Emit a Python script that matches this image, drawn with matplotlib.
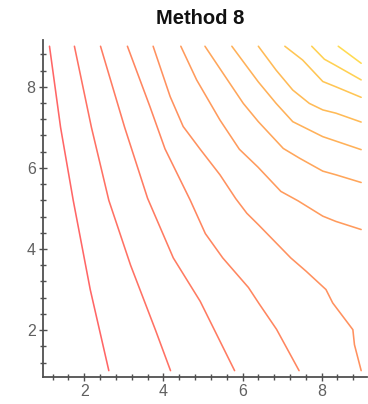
import matplotlib
matplotlib.use("Agg")
import matplotlib.pyplot as plt
from matplotlib.ticker import MultipleLocator
import numpy as np

title = "Method 8"

# Contour lines (lowest level -> highest level)
line1_x = [1.12, 1.40, 1.72, 2.15, 2.62]
line1_y = [9.0, 7.0, 5.2, 3.0, 1.0]
line2_x = [1.75, 2.18, 2.62, 3.17, 3.80, 4.18]
line2_y = [9.0, 7.0, 5.2, 3.6, 2.0, 1.0]
line3_x = [2.41, 3.02, 3.60, 4.25, 4.93, 5.80]
line3_y = [9.0, 7.0, 5.25, 3.78, 2.71, 1.0]
line4_x = [3.09, 3.66, 4.04, 4.68, 5.06, 5.50, 6.15, 6.42, 6.86, 7.43]
line4_y = [9.0, 7.51, 6.47, 5.2, 4.38, 3.78, 3.05, 2.65, 2.02, 1.0]
line5_x = [3.74, 4.17, 4.50, 4.93, 5.43, 5.83, 6.11, 6.40, 7.22, 7.61, 8.11, 8.28, 8.79, 8.83, 9.0]
line5_y = [9.0, 7.76, 7.02, 6.46, 5.83, 5.24, 4.88, 4.60, 3.78, 3.45, 3.0, 2.67, 2.01, 1.64, 1.0]
line6_x = [4.44, 4.84, 5.43, 5.92, 6.39, 6.97, 7.40, 8.03, 8.36, 9.0]
line6_y = [9.0, 8.17, 7.18, 6.46, 6.02, 5.42, 5.19, 4.81, 4.68, 4.48]
line7_x = [5.05, 5.51, 6.02, 6.40, 7.03, 7.44, 8.03, 8.36, 9.0]
line7_y = [9.0, 8.33, 7.59, 7.14, 6.48, 6.24, 5.92, 5.83, 5.64]
line8_x = [5.73, 6.11, 6.40, 6.85, 7.27, 8.03, 9.0]
line8_y = [9.0, 8.50, 8.12, 7.59, 7.14, 6.77, 6.45]
line9_x = [6.40, 6.85, 7.27, 7.69, 8.03, 8.36, 9.0]
line9_y = [9.0, 8.41, 7.92, 7.59, 7.43, 7.35, 7.13]
line10_x = [7.07, 7.52, 8.03, 8.36, 9.0]
line10_y = [9.0, 8.66, 8.13, 8.0, 7.74]
line11_x = [7.75, 8.07, 8.33, 9.0]
line11_y = [9.0, 8.68, 8.54, 8.17]
line12_x = [8.42, 9.0]
line12_y = [9.0, 8.58]

lines = [
    (line1_x, line1_y), (line2_x, line2_y), (line3_x, line3_y),
    (line4_x, line4_y), (line5_x, line5_y), (line6_x, line6_y),
    (line7_x, line7_y), (line8_x, line8_y), (line9_x, line9_y),
    (line10_x, line10_y), (line11_x, line11_y), (line12_x, line12_y),
]

xticks = [2, 4, 6, 8]
yticks = [2, 4, 6, 8]

fig = plt.figure(figsize=(3.68, 4.04), dpi=100)
ax = fig.add_axes([0.116, 0.0676, 0.8805, 0.8334])

n = len(lines)
for i, (xs, ys) in enumerate(lines):
    t = i / (n - 1)
    col = (1.0, 0.40 + 0.46 * t, 0.40 - 0.08 * t)
    ax.plot(xs, ys, color=col, lw=1.15, solid_joinstyle="round",
            solid_capstyle="round")

ax.set_xlim(0.948, 9.14)
ax.set_ylim(0.851, 9.154)
ax.set_xticks(xticks)
ax.set_yticks(yticks)
ax.xaxis.set_minor_locator(MultipleLocator(0.4))
ax.yaxis.set_minor_locator(MultipleLocator(0.4))

for s in ["top", "right"]:
    ax.spines[s].set_visible(False)
for s in ["left", "bottom"]:
    ax.spines[s].set_color("#505050")
    ax.spines[s].set_linewidth(1.3)

ax.tick_params(which="major", direction="inout", length=6, width=1.0,
               color="#505050", labelsize=11.5, labelcolor="#606060", pad=2)
ax.tick_params(which="minor", direction="inout", length=4, width=1.0,
               color="#505050")
for lab in ax.get_xticklabels() + ax.get_yticklabels():
    lab.set_family("Liberation Sans")

fig.text(0.5435, 1 - 18.5 / 404, title, ha="center", va="center",
         fontsize=14.5, fontweight="bold", family="Liberation Sans",
         color="#111111")

fig.savefig("out.png", dpi=100)
